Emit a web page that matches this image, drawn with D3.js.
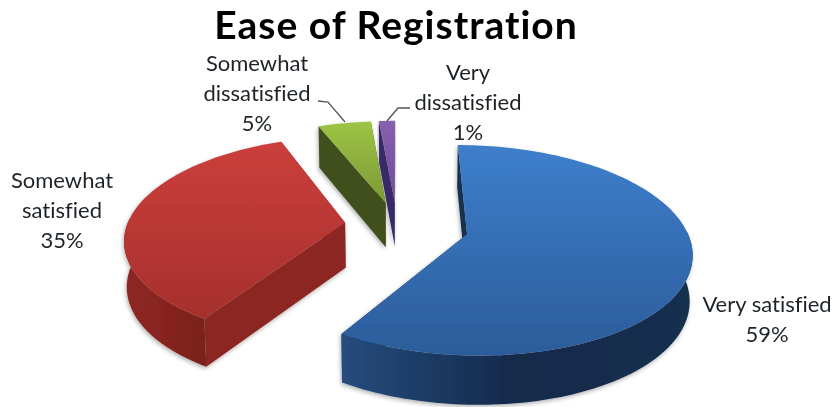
<!DOCTYPE html>
<html><head><meta charset="utf-8">
<script src="https://cdn.jsdelivr.net/npm/d3@7"></script>
<style>html,body{margin:0;padding:0;background:#fff}svg{display:block}text{font-family:Lato,"Open Sans",sans-serif;fill:#1f2428;font-variant-ligatures:none}</style>
</head><body><svg id="c" width="835" height="407"></svg>
<script>
const categories = ["Very satisfied","Somewhat satisfied","Somewhat dissatisfied","Very dissatisfied"];
const values = [59,35,4.6,1.4];
const chartTitle = "Ease of Registration";
const labelLines = [["Very satisfied","59%"],["Somewhat","satisfied","35%"],["Somewhat","dissatisfied","5%"],["Very","dissatisfied","1%"]];
const explode = [0.33,0.24,0.235,0.235];
const topColors = [["#3d7fcc","#2c5c9a"],["#cb3f3b","#a62f2c"],["#9dc444","#7c9a36"],["#8760b0","#6f4d96"]];
const wallColors = [["#264c7e","#13294a","#16304e"],["#8e2725","#86241f","#7a201d"],["#3f4f1c","#3f4f1c","#3f4f1c"],["#3a2a66","#3a2a66","#3a2a66"]];
const edgeColors = ["#14304e","#8c2623","#404f1c","#392a66"];
const labelPos = [[767,312],[62,188],[257,71],[468,80]];
const leaders = [null,null,[[318,101],[328,102],[345,122]],[[387,121],[398,108],[410,108]]];

const W=835,H=407,cx=397,cy=225,rx=218,ry=100,persp=0.15,depth=45,taper=0.99;
const svg=d3.select("#c"),defs=svg.append("defs");
const f=defs.append("filter").attr("id","sh").attr("x","-10%").attr("y","-10%").attr("width","120%").attr("height","120%");
f.append("feDropShadow").attr("dx",-1).attr("dy",2).attr("stdDeviation",2).attr("flood-color","#000").attr("flood-opacity",.3);
const soft=defs.append("filter").attr("id","soft");
soft.append("feGaussianBlur").attr("stdDeviation",.45);

const pie=d3.pie().sort(null).value(d=>d)(values);
function proj(u,v,z){
  const s=1/(1+persp*v);
  let x=cx+rx*u*s,y=cy-ry*v*s;
  if(z){x=cx+(x-cx)*taper;y+=depth*Math.sqrt(s);}
  return [x,y];
}
const line=d3.line();
const root=svg.append("g").attr("filter","url(#soft)");
function grad(id,stops,h){
  const g=defs.append("linearGradient").attr("id",id).attr("x1",0).attr("y1",0).attr("x2",h?1:0).attr("y2",h?0:1);
  stops.forEach((c,i)=>g.append("stop").attr("offset",i/(stops.length-1)).attr("stop-color",c));
  return `url(#${id})`;
}
[3,2,1,0].forEach(i=>{
  const p=pie[i],e=explode[i],mid=(p.startAngle+p.endAngle)/2;
  const ax=e*Math.sin(mid),ay=e*Math.cos(mid);
  const n=Math.max(4,Math.ceil((p.endAngle-p.startAngle)*40));
  const angles=d3.range(n+1).map(k=>p.startAngle+(p.endAngle-p.startAngle)*k/n);
  const rim=z=>angles.map(a=>proj(ax+Math.sin(a),ay+Math.cos(a),z));
  const apex=z=>proj(ax,ay,z);
  const g=root.append("g").attr("filter","url(#sh)").attr("class","slice").datum(categories[i]);
  const rT=rim(false),rB=rim(true);
  g.append("path").attr("d",line([apex(false),rT[n],rB[n],apex(true)])+"Z").attr("fill",edgeColors[i]);
  g.append("path").attr("d",line([apex(false),rT[0],rB[0],apex(true)])+"Z").attr("fill",edgeColors[i]);
  const front=angles.map((a,k)=>k).filter(k=>Math.cos(angles[k])<0.05);
  if(front.length>1){
    const t=front.map(k=>rT[k]),b=front.map(k=>rB[k]).reverse();
    g.append("path").attr("d",line(t.concat(b))+"Z").attr("fill",grad("w"+i,wallColors[i],true));
  }
  g.append("path").attr("d",line([apex(false)].concat(rT))+"Z").attr("fill",grad("t"+i,topColors[i],false));
});
const txt=svg.append("g").attr("filter","url(#soft)");
txt.append("text").attr("x",396).attr("y",39).attr("text-anchor","middle").attr("font-size",39).attr("font-weight",700).attr("letter-spacing",1).style("fill","#000").text(chartTitle);
labelLines.forEach((ls,i)=>{
  ls.forEach((t,j)=>txt.append("text").attr("x",labelPos[i][0]).attr("y",labelPos[i][1]+j*30).attr("text-anchor","middle").attr("font-size",22).text(t));
  if(leaders[i])txt.append("path").attr("d",line(leaders[i])).attr("fill","none").attr("stroke","#555").attr("stroke-width",1.3);
});
</script></body></html>
